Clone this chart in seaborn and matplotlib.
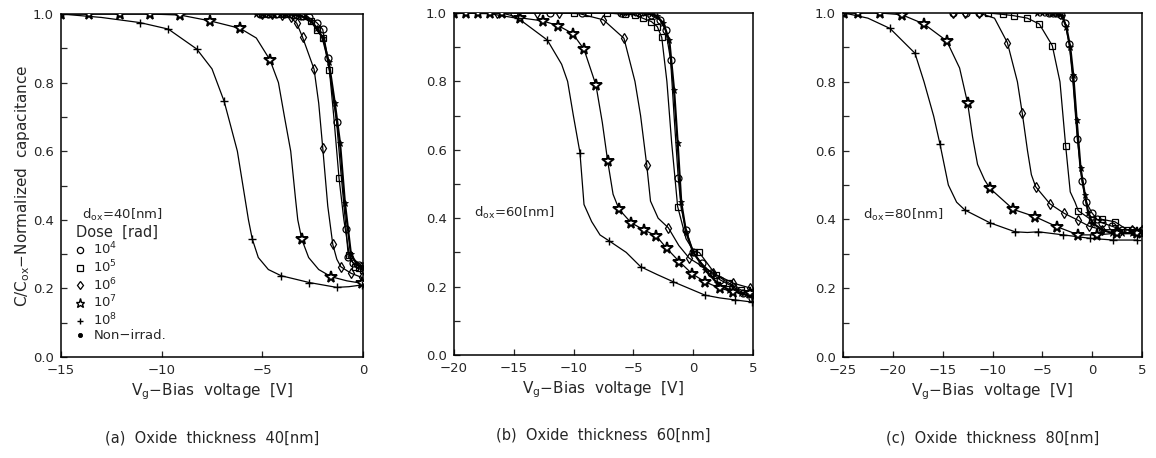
import matplotlib
matplotlib.use("Agg")
import matplotlib.pyplot as plt
import seaborn as sns
import pandas as pd
from matplotlib.lines import Line2D

# ---------------- data ----------------
# Panel (a) d_ox = 40 nm : marker points and extra curve points (x [V], C/Cox)
A_e4_x = [-5.1, -4.7, -4.3, -3.9, -3.5, -3.1, -2.7, -2.3, -2.0, -1.75, -1.31, -0.84, -0.73, -0.5, -0.2, 0.0]
A_e4_y = [1.0, 1.0, 1.0, 1.0, 0.998, 0.995, 0.99, 0.975, 0.955, 0.871, 0.684, 0.373, 0.292, 0.275, 0.268, 0.265]
A_e4_cx = [-1.1]
A_e4_cy = [0.54]
A_e5_x = [-5.0, -4.6, -4.2, -3.8, -3.4, -3.0, -2.6, -2.3, -1.97, -1.67, -1.19, -0.68, -0.4, -0.18, 0.0]
A_e5_y = [1.0, 1.0, 1.0, 1.0, 0.998, 0.993, 0.98, 0.953, 0.929, 0.837, 0.521, 0.297, 0.263, 0.26, 0.255]
A_e5_cx = [-1.45, -0.95]
A_e5_cy = [0.70, 0.40]
A_e6_x = [-5.0, -4.5, -4.0, -3.6, -3.29, -3.0, -2.43, -2.0, -1.5, -1.1, -0.59, -0.06]
A_e6_y = [1.0, 1.0, 0.998, 0.99, 0.973, 0.932, 0.839, 0.61, 0.328, 0.263, 0.244, 0.232]
A_e6_cx = [-2.2, -1.75, -1.3]
A_e6_cy = [0.74, 0.44, 0.285]
A_e7_x = [-15.0, -13.6, -12.07, -10.58, -9.09, -7.6, -6.1, -4.62, -3.04, -1.58, -0.06]
A_e7_y = [1.0, 1.0, 1.0, 1.0, 0.997, 0.98, 0.958, 0.866, 0.343, 0.234, 0.215]
A_e7_cx = [-5.3, -4.2, -3.9, -3.59, -3.35, -3.24, -2.7, -2.2, -0.8]
A_e7_cy = [0.93, 0.80, 0.70, 0.60, 0.46, 0.40, 0.29, 0.255, 0.222]
A_e8_x = [-15.0, -11.08, -9.67, -8.26, -6.9, -5.5, -4.07, -2.66, -1.31, -0.06]
A_e8_y = [1.0, 0.975, 0.956, 0.898, 0.746, 0.344, 0.237, 0.217, 0.203, 0.21]
A_e8_cx = [-13.0, -7.5, -6.6, -6.24, -5.69, -5.2, -4.7, -0.7]
A_e8_cy = [0.99, 0.84, 0.68, 0.60, 0.40, 0.29, 0.255, 0.205]
A_ni_x = [-5.3, -5.0, -4.7, -4.4, -4.1, -3.8, -3.5, -3.2, -2.9, -2.6, -2.3, -2.0, -1.7, -1.4, -1.14, -0.9, -0.6, -0.3, 0.0]
A_ni_y = [1.0, 1.0, 1.0, 1.0, 1.0, 1.0, 0.998, 0.995, 0.99, 0.98, 0.96, 0.93, 0.86, 0.74, 0.623, 0.45, 0.30, 0.27, 0.26]

# Panel (b) d_ox = 60 nm
B_e4_x = [-15.0, -12.0, -9.3, -6.0, -4.5, -3.5, -2.8, -2.3, -1.89, -1.25, -0.6, 0.0, 0.71, 1.5, 2.24, 3.3, 4.2, 4.89]
B_e4_y = [1.0, 1.0, 1.0, 1.0, 1.0, 0.995, 0.98, 0.95, 0.863, 0.517, 0.365, 0.30, 0.268, 0.24, 0.22, 0.20, 0.18, 0.166]
B_e4_cx = [-1.6, -1.0]
B_e4_cy = [0.70, 0.43]
B_e5_x = [-10.0, -8.8, -7.2, -5.7, -4.9, -4.17, -3.5, -3.0, -2.63, -1.3, 0.07, 0.5, 1.9, 3.0, 4.0, 4.89]
B_e5_y = [1.0, 1.0, 1.0, 0.996, 0.995, 0.984, 0.975, 0.96, 0.929, 0.434, 0.302, 0.30, 0.234, 0.21, 0.19, 0.184]
B_e5_cx = [-2.2, -1.8, -0.6]
B_e5_cy = [0.80, 0.62, 0.34]
B_e6_x = [-16.43, -13.09, -11.2, -7.51, -5.79, -3.89, -2.08, -0.33, 1.68, 3.36, 4.75]
B_e6_y = [1.0, 1.0, 1.0, 0.98, 0.926, 0.557, 0.372, 0.283, 0.239, 0.21, 0.196]
B_e6_cx = [-9.5, -4.87, -4.4, -3.57, -2.93, -1.2]
B_e6_cy = [0.998, 0.80, 0.70, 0.45, 0.40, 0.32]
B_e7_x = [-20.0, -19.0, -18.0, -17.0, -16.0, -14.48, -12.6, -11.28, -10.08, -9.13, -8.13, -7.15, -6.2, -5.2,
          -4.09, -3.11, -2.22, -1.16, -0.08, 0.99, 2.24, 3.36, 4.75]
B_e7_y = [1.0, 1.0, 1.0, 1.0, 1.0, 0.986, 0.977, 0.963, 0.94, 0.894, 0.789, 0.567, 0.426, 0.387,
          0.365, 0.349, 0.312, 0.273, 0.237, 0.214, 0.195, 0.185, 0.18]
B_e7_cx = [-7.6, -6.7]
B_e7_cy = [0.68, 0.47]
B_e8_x = [-20.0, -14.62, -12.2, -9.47, -7.0, -4.39, -1.66, 0.99, 3.5, 4.89]
B_e8_y = [1.0, 0.984, 0.921, 0.592, 0.333, 0.258, 0.214, 0.175, 0.161, 0.155]
B_e8_cx = [-17.0, -11.0, -10.5, -10.02, -9.13, -8.49, -7.79, -5.6, -3.0, 2.2]
B_e8_cy = [0.998, 0.85, 0.80, 0.70, 0.44, 0.39, 0.351, 0.30, 0.235, 0.167]
B_ni_x = [-6.0, -5.5, -5.0, -4.5, -4.0, -3.5, -3.0, -2.5, -2.0, -1.6, -1.3, -1.0, -0.6, 0.0, 1.0, 2.0, 3.0, 4.0, 5.0]
B_ni_y = [1.0, 1.0, 1.0, 1.0, 1.0, 0.998, 0.99, 0.97, 0.92, 0.775, 0.62, 0.446, 0.36, 0.30, 0.25, 0.21, 0.19, 0.18, 0.17]

# Panel (c) d_ox = 80 nm
C_e4_x = [-14.0, -12.7, -11.4, -4.3, -3.9, -3.5, -3.1, -2.7, -2.3, -1.96, -1.49, -1.02, -0.62, -0.05, 0.5, 1.0, 2.0, 3.0, 4.0, 5.0]
C_e4_y = [1.0, 1.0, 1.0, 1.0, 1.0, 1.0, 0.995, 0.97, 0.91, 0.812, 0.634, 0.512, 0.452, 0.42, 0.40, 0.39, 0.38, 0.37, 0.37, 0.37]
C_e4_cx = []
C_e4_cy = []
C_e5_x = [-10.42, -8.98, -7.84, -6.5, -5.3, -4.0, -2.66, -1.39, -0.05, 1.0, 2.29, 3.5, 4.8]
C_e5_y = [1.0, 0.996, 0.992, 0.985, 0.968, 0.905, 0.614, 0.425, 0.398, 0.40, 0.393, 0.37, 0.36]
C_e5_cx = [-3.23, -2.2, -1.72]
C_e5_cy = [0.80, 0.48, 0.45]
C_e6_x = [-13.93, -12.76, -11.36, -8.51, -7.01, -5.67, -4.23, -2.83, -1.45, -0.3, 1.0, 2.5, 4.0, 5.0]
C_e6_y = [1.0, 1.0, 1.0, 0.914, 0.708, 0.495, 0.445, 0.418, 0.398, 0.38, 0.37, 0.37, 0.37, 0.37]
C_e6_cx = [-9.8, -7.5, -6.49, -6.1]
C_e6_cy = [0.985, 0.80, 0.60, 0.53]
C_e7_x = [-24.87, -23.5, -21.3, -19.1, -16.87, -14.6, -12.49, -10.25, -7.91, -5.74, -3.56, -1.39, 0.5, 2.5, 4.5]
C_e7_y = [1.0, 1.0, 1.0, 0.995, 0.968, 0.919, 0.737, 0.49, 0.429, 0.408, 0.379, 0.355, 0.355, 0.36, 0.36]
C_e7_cx = [-13.3, -12.0, -11.5, -10.8]
C_e7_cy = [0.84, 0.64, 0.56, 0.515]
C_e8_x = [-24.87, -20.28, -17.78, -15.27, -12.76, -10.25, -7.74, -5.4, -2.9, -0.22, 2.12, 4.47]
C_e8_y = [1.0, 0.955, 0.883, 0.619, 0.427, 0.39, 0.364, 0.364, 0.355, 0.345, 0.34, 0.34]
C_e8_cx = [-22.5, -16.87, -15.9, -14.43, -13.6, -6.5]
C_e8_cy = [0.985, 0.80, 0.70, 0.50, 0.45, 0.362]
C_ni_x = [-5.5, -5.0, -4.5, -4.0, -3.5, -3.0, -2.6, -2.2, -1.9, -1.56, -1.17, -0.73, -0.4, 0.0, 1.0, 2.0, 3.0, 4.0, 5.0]
C_ni_y = [1.0, 1.0, 1.0, 1.0, 0.998, 0.99, 0.96, 0.90, 0.82, 0.69, 0.55, 0.471, 0.42, 0.39, 0.37, 0.36, 0.36, 0.36, 0.36]

dose_labels = [r"10$^{4}$", r"10$^{5}$", r"10$^{6}$", r"10$^{7}$", r"10$^{8}$", "Non\u2212irrad."]
panel_xlim = [(-15, 0), (-20, 5), (-25, 5)]
panel_xticks = [[-15, -10, -5, 0], [-20, -15, -10, -5, 0, 5], [-25, -20, -15, -10, -5, 0, 5]]
panel_dox = ["d$_{\\rm ox}$=40[nm]", "d$_{\\rm ox}$=60[nm]", "d$_{\\rm ox}$=80[nm]"]
captions = ["(a)  Oxide  thickness  40[nm]", "(b)  Oxide  thickness  60[nm]", "(c)  Oxide  thickness  80[nm]"]

panels = [
    [(A_e4_x, A_e4_y, A_e4_cx, A_e4_cy), (A_e5_x, A_e5_y, A_e5_cx, A_e5_cy), (A_e6_x, A_e6_y, A_e6_cx, A_e6_cy),
     (A_e7_x, A_e7_y, A_e7_cx, A_e7_cy), (A_e8_x, A_e8_y, A_e8_cx, A_e8_cy), (A_ni_x, A_ni_y, [], [])],
    [(B_e4_x, B_e4_y, B_e4_cx, B_e4_cy), (B_e5_x, B_e5_y, B_e5_cx, B_e5_cy), (B_e6_x, B_e6_y, B_e6_cx, B_e6_cy),
     (B_e7_x, B_e7_y, B_e7_cx, B_e7_cy), (B_e8_x, B_e8_y, B_e8_cx, B_e8_cy), (B_ni_x, B_ni_y, [], [])],
    [(C_e4_x, C_e4_y, C_e4_cx, C_e4_cy), (C_e5_x, C_e5_y, C_e5_cx, C_e5_cy), (C_e6_x, C_e6_y, C_e6_cx, C_e6_cy),
     (C_e7_x, C_e7_y, C_e7_cx, C_e7_cy), (C_e8_x, C_e8_y, C_e8_cx, C_e8_cy), (C_ni_x, C_ni_y, [], [])],
]

# ---------------- styles ----------------
styles = [
    dict(marker="o", markersize=5.0, markerfacecolor="none", markeredgewidth=0.9),
    dict(marker="s", markersize=4.5, markerfacecolor="none", markeredgewidth=0.9),
    dict(marker="d", markersize=5.5, markerfacecolor="none", markeredgewidth=0.9),
    dict(marker="*", markersize=8.5, markerfacecolor="white", markeredgewidth=1.4),
    dict(marker="+", markersize=6.0, markerfacecolor="none", markeredgewidth=1.0),
    dict(marker="*", markersize=4.5, markerfacecolor="black", markeredgewidth=0.6),
]
legend_styles = [
    dict(marker="o", markersize=4.5, markerfacecolor="none", markeredgewidth=0.9),
    dict(marker="s", markersize=4.0, markerfacecolor="none", markeredgewidth=0.9),
    dict(marker="d", markersize=4.5, markerfacecolor="none", markeredgewidth=0.9),
    dict(marker="*", markersize=6.5, markerfacecolor="white", markeredgewidth=1.0),
    dict(marker="+", markersize=5.0, markerfacecolor="none", markeredgewidth=1.0),
    dict(marker="o", markersize=3.0, markerfacecolor="black", markeredgewidth=0.6),
]
line_widths = [0.9, 0.9, 0.9, 0.9, 0.9, 1.6]

sns.set_style("ticks")
plt.rcParams["font.family"] = ["DejaVu Sans"]
plt.rcParams["mathtext.fontset"] = "dejavusans"

fig = plt.figure(figsize=(11.56, 4.58), dpi=100)
rects = [
    [61 / 1156, 101 / 458, 302 / 1156, 343 / 458],
    [454 / 1156, 103 / 458, 299 / 1156, 342 / 458],
    [843 / 1156, 101 / 458, 299 / 1156, 344 / 458],
]

for p, rect in enumerate(rects):
    ax = fig.add_axes(rect)
    for s, (mx, my, cx, cy) in enumerate(panels[p]):
        line_df = pd.DataFrame({"x": list(mx) + list(cx), "y": list(my) + list(cy)}).sort_values("x")
        sns.lineplot(data=line_df, x="x", y="y", ax=ax, color="black", lw=line_widths[s],
                     estimator=None, sort=False, zorder=2)
        mk_df = pd.DataFrame({"x": mx, "y": my})
        sns.lineplot(data=mk_df, x="x", y="y", ax=ax, color="black", linestyle="none",
                     markeredgecolor="black", estimator=None, sort=False, zorder=3, **styles[s])
    ax.set_xlim(*panel_xlim[p])
    ax.set_ylim(0, 1.0)
    ax.set_xticks(panel_xticks[p])
    ax.set_xticklabels([str(t).replace("-", "\u2212") for t in panel_xticks[p]])
    ax.set_yticks([0.0, 0.2, 0.4, 0.6, 0.8, 1.0])
    ax.set_yticks([0.1, 0.3, 0.5, 0.7, 0.9], minor=True)
    ax.set_yticklabels(["0.0", "0.2", "0.4", "0.6", "0.8", "1.0"])
    ax.tick_params(axis="both", which="both", direction="in", length=4, width=0.9,
                   labelsize=9.5, top=False, right=False)
    ax.tick_params(axis="x", pad=5)
    ax.tick_params(axis="y", pad=5)
    for sp in ax.spines.values():
        sp.set_visible(True)
        sp.set_linewidth(1.1)
        sp.set_color("black")
    ax.set_xlabel(r"V$_{\rm g}$$-$Bias  voltage  [V]", fontsize=11, labelpad=3)
    if p == 0:
        ax.set_ylabel(r"C/C$_{\rm ox}$$-$Normalized  capacitance", fontsize=11, labelpad=1)
    else:
        ax.set_ylabel("")
    ax.text(0.068, 0.414, panel_dox[p], transform=ax.transAxes, fontsize=9.5, va="center", ha="left")
    ax.text(0.5, -0.235, captions[p], transform=ax.transAxes, fontsize=10.5, ha="center", va="center")
    if p == 0:
        handles = [Line2D([], [], color="black", linestyle="none", **st) for st in legend_styles]
        ax.legend(handles, dose_labels, loc="upper left", bbox_to_anchor=(0.05, 0.385),
                  frameon=False, handlelength=0.6, handletextpad=0.7, labelspacing=0.08,
                  borderpad=0, borderaxespad=0, fontsize=9.5, title="Dose  [rad]",
                  title_fontsize=10.5, alignment="left")
    else:
        lg = ax.get_legend()
        if lg is not None:
            lg.remove()

fig.savefig("out.png", dpi=100)
